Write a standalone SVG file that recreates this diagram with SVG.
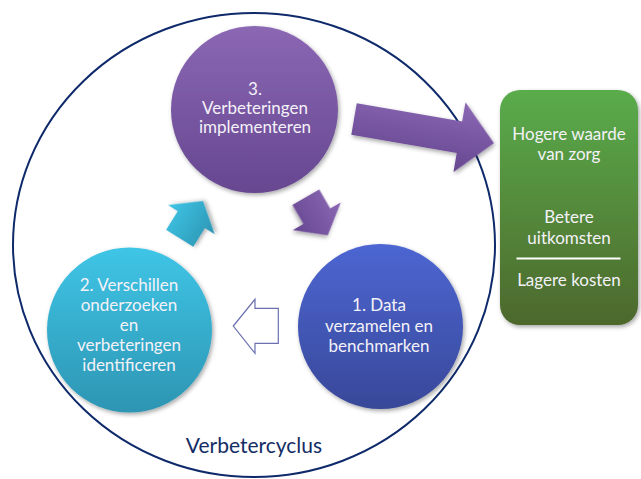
<svg xmlns="http://www.w3.org/2000/svg" width="641" height="479" viewBox="0 0 641 479">
<defs>
<linearGradient id="gPurple" x1="0" y1="0" x2="0" y2="1"><stop offset="0" stop-color="#8b67b4"/><stop offset="1" stop-color="#664790"/></linearGradient>
<linearGradient id="gCyan" x1="0" y1="0" x2="0" y2="1"><stop offset="0" stop-color="#3fc5e6"/><stop offset="1" stop-color="#2d95b3"/></linearGradient>
<linearGradient id="gBlue" x1="0" y1="0" x2="0" y2="1"><stop offset="0" stop-color="#4d66d2"/><stop offset="1" stop-color="#384899"/></linearGradient>
<linearGradient id="gGreen" x1="0" y1="0" x2="0" y2="1"><stop offset="0" stop-color="#5aac4b"/><stop offset="1" stop-color="#4d682c"/></linearGradient>
<filter id="sh" x="-20%" y="-20%" width="140%" height="140%"><feDropShadow dx="1.5" dy="2" stdDeviation="2" flood-color="#000" flood-opacity="0.35"/></filter>
</defs>
<style>
.lbl{font-family:Lato,"Liberation Sans",sans-serif;font-size:17px;fill:#f4f2f8;text-anchor:middle}
.cyc{font-family:Lato,"Liberation Sans",sans-serif;font-size:21px;fill:#142d64;text-anchor:middle}
</style>
<ellipse id="cycle" cx="254" cy="245" rx="241" ry="232" fill="none" stroke="#0f2a6b" stroke-width="2"/>
<text class="cyc" x="254" y="453">Verbetercyclus</text>
<g id="connectors">
<polygon transform="translate(354,119) rotate(9.8)" points="0,-16 107,-16 107,-35.5 142,0 107,35.5 107,16 0,16" fill="url(#gPurple)" filter="url(#sh)"/>
<polygon transform="translate(305.8,197.2) rotate(60)" points="0,-15.6 22,-15.6 22,-27.8 44,0 22,27.8 22,15.6 0,15.6" fill="url(#gPurple)" filter="url(#sh)"/>
<polygon transform="translate(179.7,238.3) rotate(-58)" points="0,-16 22,-16 22,-27.5 44,0 22,27.5 22,16 0,16" fill="url(#gCyan)" filter="url(#sh)"/>
<polygon points="233.3,326 255,299.3 255,308.3 278.3,308.3 278.3,343.3 255,343.3 255,353.3" fill="#fff" stroke="#6a70b0" stroke-width="1.2"/>
</g>
<g id="node3">
<circle cx="254.5" cy="109.5" r="83.5" fill="url(#gPurple)" filter="url(#sh)"/>
<text class="lbl" x="255" y="95">3.</text>
<text class="lbl" x="255" y="114">Verbeteringen</text>
<text class="lbl" x="255" y="133">implementeren</text>
</g>
<g id="node2">
<circle cx="129.5" cy="330" r="82.5" fill="url(#gCyan)" filter="url(#sh)"/>
<text class="lbl" x="129" y="291">2. Verschillen</text>
<text class="lbl" x="129" y="311">onderzoeken</text>
<text class="lbl" x="129" y="331">en</text>
<text class="lbl" x="129" y="351">verbeteringen</text>
<text class="lbl" x="129" y="371">identificeren</text>
</g>
<g id="node1">
<circle cx="380.5" cy="326.5" r="82.5" fill="url(#gBlue)" filter="url(#sh)"/>
<text class="lbl" x="379" y="311">1. Data</text>
<text class="lbl" x="379" y="331.5">verzamelen en</text>
<text class="lbl" x="379" y="351.5">benchmarken</text>
</g>
<g id="outcome">
<rect x="500" y="90" width="138" height="235" rx="20" ry="20" fill="url(#gGreen)" filter="url(#sh)"/>
<text class="lbl" x="569" y="140">Hogere waarde</text>
<text class="lbl" x="569" y="160">van zorg</text>
<text class="lbl" x="569" y="222.5">Betere</text>
<text class="lbl" x="569" y="243.5">uitkomsten</text>
<line x1="516.5" y1="258.5" x2="620.5" y2="258.5" stroke="#fff" stroke-width="2"/>
<text class="lbl" x="569" y="286">Lagere kosten</text>
</g>
</svg>
